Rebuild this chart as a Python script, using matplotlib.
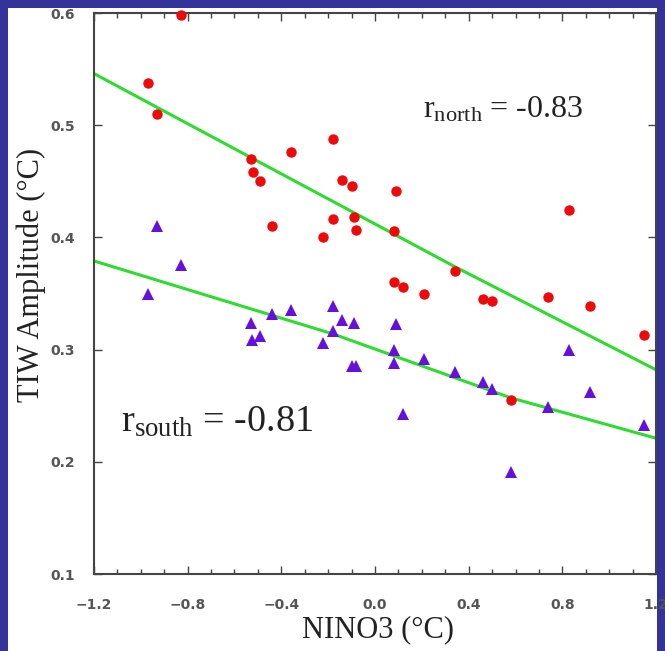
import matplotlib
matplotlib.use('Agg')
import matplotlib.pyplot as plt
from matplotlib.patches import Rectangle
from matplotlib.ticker import MultipleLocator

plt.rcParams['mathtext.fontset'] = 'custom'
plt.rcParams['mathtext.rm'] = 'Liberation Serif'
plt.rcParams['mathtext.it'] = 'Liberation Serif:italic'

# NINO3 anomaly and TIW amplitude, north of equator (red circles)
north_x = [-0.83, -0.97, -0.93, -0.53, -0.52, -0.49, -0.36, -0.18, -0.14, -0.10,
           -0.18, -0.09, -0.08, 0.09, 0.08, 0.34, 0.08, 0.12, 0.21, 0.46,
           0.50, 0.74, 0.83, 0.92, 1.15, -0.44, -0.22, 0.58]
north_y = [0.598, 0.538, 0.510, 0.470, 0.458, 0.450, 0.476, 0.488, 0.451, 0.446,
           0.416, 0.418, 0.407, 0.441, 0.406, 0.370, 0.360, 0.356, 0.350, 0.345,
           0.343, 0.347, 0.424, 0.339, 0.313, 0.410, 0.400, 0.255]

# south of equator (purple triangles)
south_x = [-0.93, -0.83, -0.97, -0.53, -0.44, -0.36, -0.18, -0.525, -0.49, -0.22,
           -0.18, -0.14, -0.09, -0.10, -0.08, 0.09, 0.08, 0.08, 0.21, 0.12,
           0.34, 0.46, 0.50, 0.58, 0.74, 0.83, 0.92, 1.15]
south_y = [0.410, 0.375, 0.350, 0.324, 0.332, 0.335, 0.339, 0.309, 0.312, 0.306,
           0.317, 0.326, 0.324, 0.285, 0.285, 0.323, 0.300, 0.288, 0.292, 0.243,
           0.280, 0.271, 0.265, 0.191, 0.249, 0.300, 0.262, 0.233]

# fitted lines
north_fit_x = [-1.2, 0.34, 1.2]
north_fit_y = [0.546, 0.374, 0.282]
south_fit_x = [-1.2, -0.18, 0.58, 1.2]
south_fit_y = [0.379, 0.314, 0.257, 0.221]

fig = plt.figure(figsize=(6.65, 6.51), dpi=100)
fig.patch.set_facecolor('#333399')
fig.patches.append(Rectangle((8 / 665, 0), 649 / 665, 643 / 651,
                             transform=fig.transFigure, facecolor='white',
                             edgecolor='none', zorder=-10))

ax = fig.add_axes([94 / 665, 77 / 651, 562 / 665, 561 / 651])
ax.set_facecolor('white')

ax.plot(north_fit_x, north_fit_y, color='#2ddd2d', lw=2.2, zorder=2)
ax.plot(south_fit_x, south_fit_y, color='#2ddd2d', lw=2.2, zorder=2)
ax.plot(north_x, north_y, 'o', color='#ee0a0a', markersize=7.5,
        markeredgewidth=0, clip_on=False, zorder=3)
ax.plot(south_x, south_y, '^', color='#6610dd', markersize=8.5,
        markeredgewidth=0, clip_on=False, zorder=3)

ax.set_xlim(-1.2, 1.2)
ax.set_ylim(0.1, 0.6)
ax.set_xticks([-1.2, -0.8, -0.4, 0.0, 0.4, 0.8, 1.2])
ax.set_xticklabels(['\u22121.2', '\u22120.8', '\u22120.4', '0.0', '0.4', '0.8', '1.2'],
                   fontweight='bold')
ax.xaxis.set_minor_locator(MultipleLocator(0.1))
ax.set_yticks([0.1, 0.2, 0.3, 0.4, 0.5, 0.6])
ax.set_yticklabels(['0.1', '0.2', '0.3', '0.4', '0.5', '0.6'], fontweight='bold')
ax.tick_params(which='both', direction='in', top=True, right=True,
               color='#444444', width=1.0)
ax.tick_params(which='major', length=6, labelsize=10, labelcolor='#555555')
ax.tick_params(axis='x', which='major', pad=17)
ax.tick_params(axis='y', which='major', pad=14)
ax.tick_params(which='minor', length=3.5)
for s in ax.spines.values():
    s.set_color('#444444')
    s.set_linewidth(1.5)

ax.set_xlabel('NINO3 (\u00b0C)', family='Liberation Serif', fontsize=22,
              color='#222222')
ax.xaxis.label.set_va('center')
ax.xaxis.set_label_coords(0.505, -0.100)
ax.set_ylabel('TIW Amplitude (\u00b0C)', family='Liberation Serif', fontsize=22,
              color='#222222')
ax.yaxis.label.set_va('center')
ax.yaxis.set_label_coords(-0.112, 0.533)

ax.text(0.203, 0.507, r'$\mathregular{r_{north}}$ = -0.83', family='Liberation Serif',
        fontsize=23, color='#222222', va='baseline', ha='left')
ax.text(-1.085, 0.2266, r'$\mathregular{r_{south}}$ = -0.81', family='Liberation Serif',
        fontsize=27.5, color='#222222', va='baseline', ha='left')

fig.savefig('out.png', dpi=100, facecolor=fig.get_facecolor())
